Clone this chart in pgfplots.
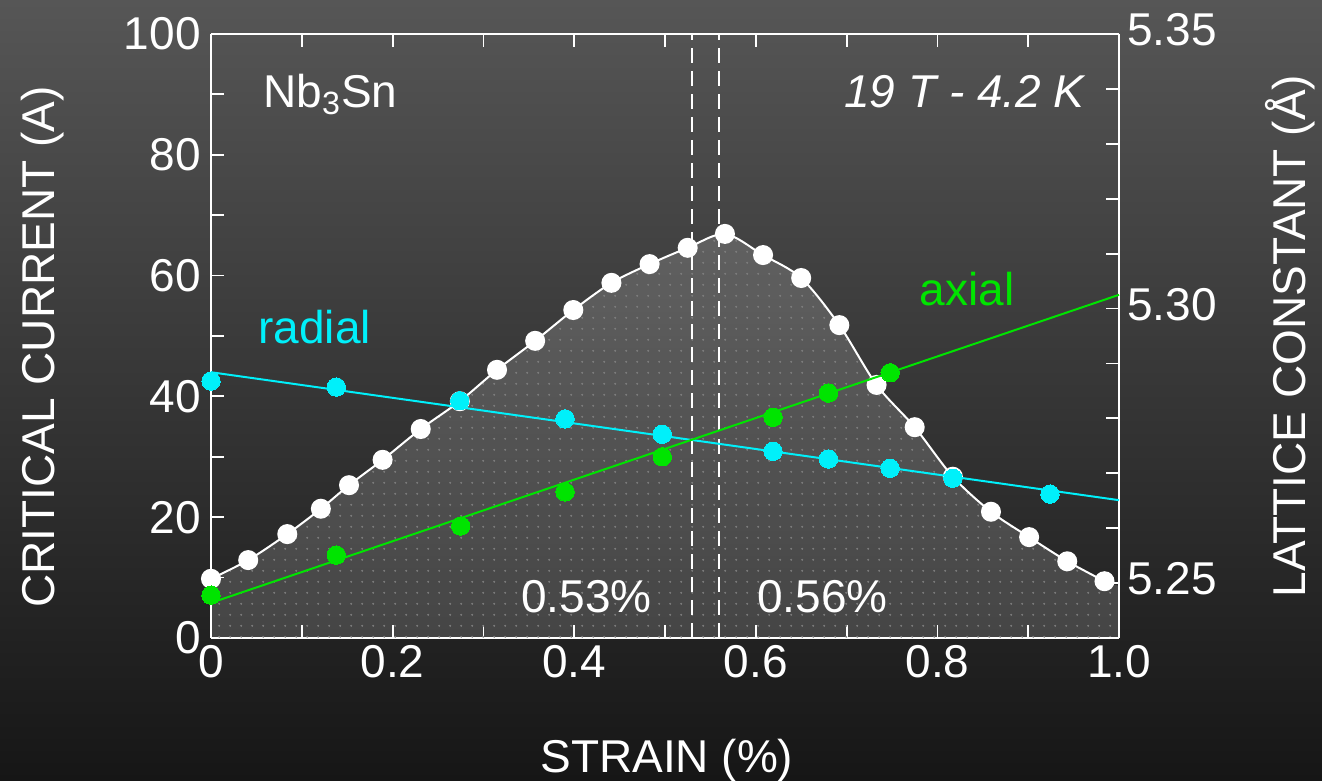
\documentclass[border=0pt]{standalone}
\usepackage{fontspec}
\setmainfont{Liberation Sans}
\usepackage{pgfplots}
\pgfplotsset{compat=1.18}
\usetikzlibrary{patterns.meta}

\definecolor{bgtop}{RGB}{86,86,86}
\definecolor{bgbot}{RGB}{22,22,22}
\definecolor{cyanline}{RGB}{0,240,250}
\definecolor{greenline}{RGB}{0,228,0}
\definecolor{dotgray}{RGB}{128,128,128}

% sparse grid of small dots for the area under the Ic curve
\tikzdeclarepattern{
  name=griddots,
  type=uncolored,
  bottom left={(0pt,0pt)},
  top right={(5.35pt,5.35pt)},
  tile size={(5.35pt,5.35pt)},
  code={\fill (2.675pt,2.675pt) circle (0.55pt);}
}

\pgfplotstableread{
x      ic
0.000  9.8
0.041  12.9
0.084  17.2
0.121  21.4
0.152  25.3
0.189  29.5
0.231  34.6
0.274  39.2
0.315  44.4
0.357  49.2
0.399  54.3
0.441  58.8
0.483  61.9
0.525  64.6
0.566  66.9
0.608  63.4
0.650  59.6
0.692  51.8
0.733  41.9
0.775  34.9
0.817  26.7
0.859  20.9
0.901  16.7
0.943  12.7
0.984  9.4
}\icdata

\pgfplotstableread{
x      a
0.000  5.2868
0.138  5.2857
0.274  5.2832
0.390  5.2799
0.497  5.2771
0.619  5.2740
0.680  5.2726
0.748  5.2709
0.817  5.2691
0.924  5.2662
}\radialdata

\pgfplotstableread{
x      a
0.000  5.2478
0.138  5.2551
0.275  5.2604
0.390  5.2666
0.497  5.2730
0.619  5.2802
0.680  5.2846
0.748  5.2883
}\axialdata

\pgfplotsset{
  darkaxis/.style={
    at={(105.5pt,71.5pt)}, anchor=south west,
    width=454pt, height=302pt, scale only axis,
    xmin=0, xmax=1, clip=false,
    axis line style={white, line width=1pt},
    every tick/.style={white, line width=0.9pt},
    major tick length=6.5pt, minor tick length=6.5pt,
    tick align=inside,
    tick label style={white},
  }
}

\begin{document}
\begin{tikzpicture}[font=\fontsize{23}{27}\selectfont]
\useasboundingbox (0,0) rectangle (661pt,390.5pt);
\shade[top color=bgtop, bottom color=bgbot] (0,0) rectangle (661pt,390.5pt);

% critical current (left axis)
\begin{axis}[darkaxis,
  ymin=0, ymax=100,
  axis y line*=left,
  ytick pos=left,
  xtick={0,0.2,0.4,0.6,0.8,1.0},
  xticklabels={0,0.2,0.4,0.6,0.8,1.0},
  minor xtick={0.1,0.3,0.5,0.7,0.9},
  ytick={0,20,40,60,80,100},
  yticklabels={0,20,40,60,80,100},
  minor ytick={10,30,50,70,90},
  yticklabel style={inner xsep=5pt},
  xlabel={STRAIN (\%)},
  every axis x label/.style={at={(axis description cs:0.502,-0.222)}, anchor=base, text=white},
  ylabel={CRITICAL CURRENT (A)},
  every axis y label/.style={at={(axis description cs:-0.186,0.482)}, anchor=center, rotate=90, text=white},
]
\addplot[draw=none, fill=white, fill opacity=0.16, smooth]
  table[x=x, y=ic] {\icdata} -- (axis cs:1.0,8.6) \closedcycle;
\addplot[draw=none, pattern=griddots, pattern color=dotgray, smooth]
  table[x=x, y=ic] {\icdata} -- (axis cs:1.0,8.6) \closedcycle;

\addplot[white, line width=1pt, dash pattern=on 7.5pt off 4pt] coordinates {(0.53,0) (0.53,100)};
\addplot[white, line width=1pt, dash pattern=on 7.5pt off 4pt] coordinates {(0.56,0) (0.56,100)};

\addplot[white, line width=1pt, smooth, mark=*, mark size=4.5pt,
  mark options={draw=none, fill=white}] table[x=x, y=ic] {\icdata};

\node[anchor=base west, inner sep=0pt, white] at (axis cs:0.0573,87.9) {Nb\textsubscript{3}Sn};
\node[anchor=base east, inner sep=0pt, white] at (axis cs:0.9626,87.9) {\itshape 19 T - 4.2 K};
\node[anchor=base west, inner sep=0pt, cyanline] at (axis cs:0.0518,48.8) {radial};
\node[anchor=base west, inner sep=0pt, greenline] at (axis cs:0.780,55.1) {axial};
\node[anchor=base east, inner sep=0pt, white] at (axis cs:0.4857,4.3) {0.53\%};
\node[anchor=base west, inner sep=0pt, white] at (axis cs:0.601,4.3) {0.56\%};
\end{axis}

% lattice constant (right axis)
\begin{axis}[darkaxis,
  ymin=5.24, ymax=5.35,
  axis x line=none,
  axis y line*=right,
  ytick pos=right,
  yticklabel pos=right,
  ytick={5.25,5.30,5.35},
  yticklabels={5.25,5.30,5.35},
  minor ytick={5.24,5.26,5.27,5.28,5.29,5.31,5.32,5.33,5.34},
  yticklabel style={inner xsep=4pt, yshift=2pt},
  ylabel={LATTICE CONSTANT (Å)},
  every axis y label/.style={at={(axis description cs:1.188,0.5)}, anchor=center, rotate=90, text=white},
]
\addplot[cyanline, line width=1pt] coordinates {(0,5.2884) (1,5.2651)};
\addplot[greenline, line width=1pt] coordinates {(0,5.2464) (1,5.3025)};
\addplot[color=cyanline, only marks, mark=*, mark size=4.6pt, mark options={solid, fill=cyanline, draw=cyanline, line width=0pt}]
  table[x=x, y=a] {\radialdata};
\addplot[color=greenline, only marks, mark=*, mark size=4.6pt, mark options={solid, fill=greenline, draw=greenline, line width=0pt}]
  table[x=x, y=a] {\axialdata};
\end{axis}
\end{tikzpicture}
\end{document}
